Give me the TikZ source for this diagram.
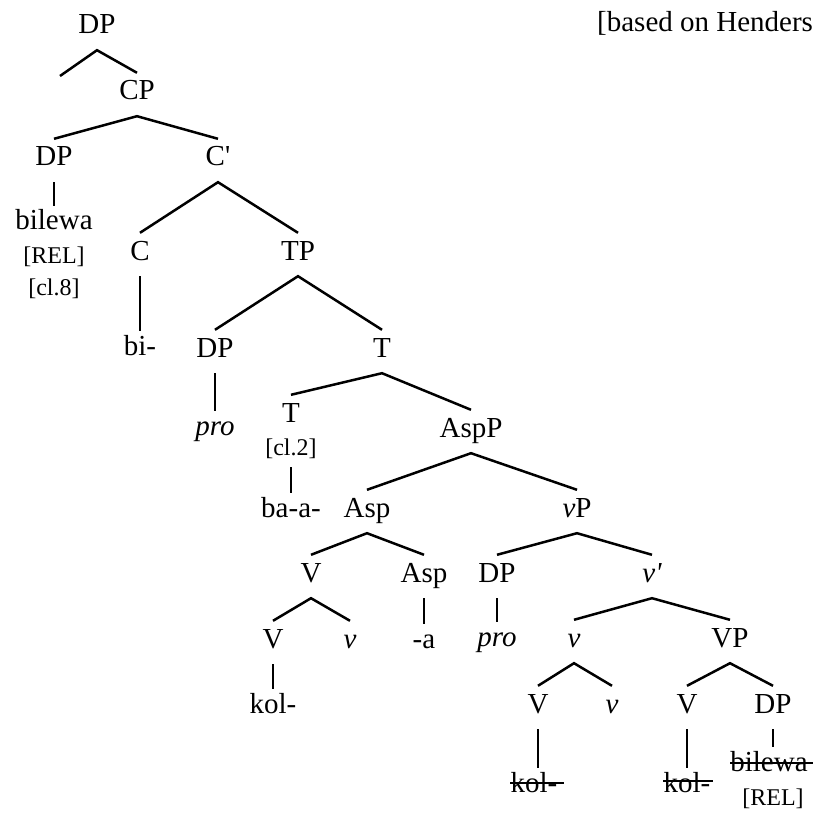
\documentclass[tikz,border=0pt]{standalone}
\usepackage{fontspec}
\newfontfamily\tnr{Liberation Serif}
\begin{document}
\begin{tikzpicture}[x=1pt,y=-1pt,
  every node/.style={font=\tnr\fontsize{29}{33}\selectfont, inner xsep=0pt, anchor=base},
  cat/.style={text height=17pt, text depth=6pt, inner ysep=10pt},
  leaf/.style={text height=14pt, text depth=6pt, inner ysep=10pt},
  sm/.style={font=\tnr\fontsize{24}{28}\selectfont, text height=14pt, text depth=5pt, inner ysep=7pt},
  br/.style={line width=2.5pt},
  strike/.style={line width=1.7pt}]
\useasboundingbox (0,0) rectangle (814,813);
% title
\node[anchor=base west, inner sep=0pt] (title) at (597,32) {[based on Henders};
% nodes
\node[cat] (DPtop) at (97,34) {DP};
\coordinate (stub) at (60,76);
\node[cat] (CP) at (137,100) {CP};
\node[cat] (DP1) at (54,166) {DP};
\node[cat] (Cbar) at (218,166) {C'};
\node[leaf] (bilewa1) at (54,230) {bilewa};
\node[sm] (REL1) at (54,263) {[REL]};
\node[sm] (cl8) at (54,295) {[cl.8]};
\node[cat] (C) at (140,260) {C};
\node[cat] (TP) at (298,260) {TP};
\node[leaf] (bi) at (140,355) {bi-};
\node[cat] (DP2) at (215,357) {DP};
\node[cat] (T1) at (382,357) {T};
\node[leaf] (pro1) at (215,435) {\itshape pro};
\node[cat] (T2) at (291,422) {T};
\node[sm] (cl2) at (291,455) {[cl.2]};
\node[leaf] (ba) at (291,517) {ba-a-};
\node[cat] (AspP) at (471,437) {AspP};
\node[cat] (Asp1) at (367,517) {Asp};
\node[cat] (vP) at (577,517) {{\itshape ν}P};
\node[cat] (V1) at (311,582) {V};
\node[cat] (Asp2) at (424,582) {Asp};
\node[cat] (DP3) at (497,582) {DP};
\node[cat] (vbar) at (652,582) {\itshape ν'};
\node[cat] (V2) at (273,648) {V};
\node[cat] (nu1) at (350,648) {\itshape ν};
\node[leaf] (a) at (424,648) {-a};
\node[leaf] (pro2) at (497,646) {\itshape pro};
\node[leaf] (kol1) at (273,713) {kol-};
\node[cat] (nu2) at (574,647) {\itshape ν};
\node[cat] (VP) at (730,647) {VP};
\node[cat] (V3) at (538,713) {V};
\node[cat] (nu3) at (612,713) {\itshape ν};
\node[cat] (V4) at (687,713) {V};
\node[cat] (DP4) at (773,713) {DP};
\node[leaf] (kol2) at (534,792) {kol-};
\node[leaf] (kol3) at (687,792) {kol-};
\node[leaf] (bilewa2) at (769,771) {bilewa};
\node[sm] (REL2) at (773,805) {[REL]};
% branches
\draw[br] (stub) -- (DPtop.south) -- (CP.north);
\draw[br] (DP1.north) -- (CP.south) -- (Cbar.north);
\draw[br] (DP1.south) -- (bilewa1.north);
\draw[br] (C.north) -- (Cbar.south) -- (TP.north);
\draw[br] (C.south) -- (bi.north);
\draw[br] (DP2.north) -- (TP.south) -- (T1.north);
\draw[br] (DP2.south) -- (pro1.north);
\draw[br] (T2.north) -- (T1.south) -- (AspP.north);
\draw[br] (cl2.south) -- (ba.north);
\draw[br] (Asp1.north) -- (AspP.south) -- (vP.north);
\draw[br] (V1.north) -- (Asp1.south) -- (Asp2.north);
\draw[br] (V2.north) -- (V1.south) -- (nu1.north);
\draw[br] (V2.south) -- (kol1.north);
\draw[br] (Asp2.south) -- (a.north);
\draw[br] (DP3.north) -- (vP.south) -- (vbar.north);
\draw[br] (DP3.south) -- (pro2.north);
\draw[br] (nu2.north) -- (vbar.south) -- (VP.north);
\draw[br] (V3.north) -- (nu2.south) -- (nu3.north);
\draw[br] (V4.north) -- (VP.south) -- (DP4.north);
\draw[br] (V3.south) -- (V3.south |- kol2.north);
\draw[br] (V4.south) -- (kol3.north);
\draw[br] (DP4.south) -- (DP4.south |- bilewa2.north);
% strike-throughs
\draw[strike] ([yshift=9pt]kol2.base west) -- ([yshift=9pt,xshift=6pt]kol2.base east);
\draw[strike] ([yshift=11pt]kol3.base west) -- ([yshift=11pt,xshift=2pt]kol3.base east);
\draw[strike] ([yshift=8pt]bilewa2.base west) -- ([yshift=8pt,xshift=5pt]bilewa2.base east);
\end{tikzpicture}
\end{document}
